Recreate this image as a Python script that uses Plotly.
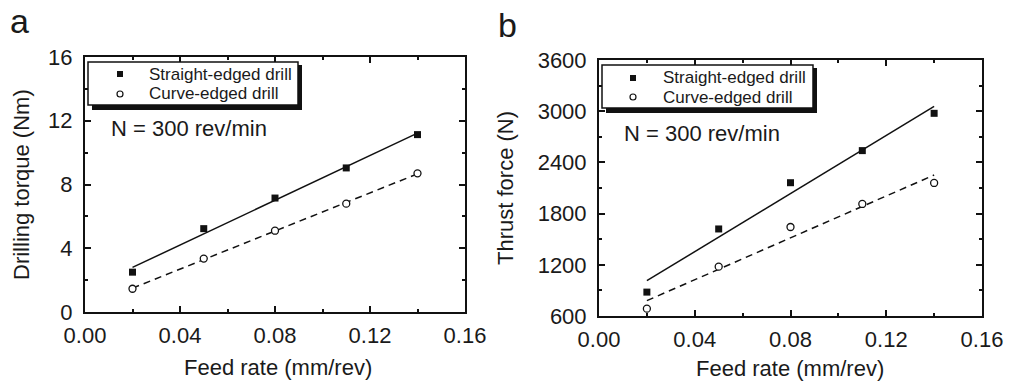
import numpy as np
import plotly.graph_objects as go

# ---------------- data ----------------
feed_rate = [0.02, 0.05, 0.08, 0.11, 0.14]

torque_straight = [2.50, 5.23, 7.15, 9.04, 11.13]
torque_curve = [1.46, 3.35, 5.10, 6.80, 8.70]

thrust_straight = [880, 1620, 2162, 2538, 2975]
thrust_curve = [686, 1178, 1643, 1913, 2159]

x_ticks = [0.00, 0.04, 0.08, 0.12, 0.16]
torque_ticks = [0, 4, 8, 12, 16]
thrust_ticks = [600, 1200, 1800, 2400, 3000, 3600]

label_straight = "Straight-edged drill"
label_curve = "Curve-edged drill"
speed_note = "N = 300 rev/min"

W, H = 1010, 381
FONT = "Liberation Sans, Arial, sans-serif"
TXT = "#1a1a1a"
INK = "#111"


def px(x):
    return x / W


def py(y):
    return 1 - y / H


def fit(xs, ys):
    k, b = np.polyfit(xs, ys, 1)
    xe = [min(xs), max(xs)]
    return xe, [k * v + b for v in xe]


fig = go.Figure()

panels = [
    ("x", "y", torque_straight, torque_curve),
    ("x2", "y2", thrust_straight, thrust_curve),
]
for xa, ya, ys, yc in panels:
    fx, fy = fit(feed_rate, ys)
    fig.add_trace(go.Scatter(x=fx, y=fy, mode="lines", showlegend=False,
                             xaxis=xa, yaxis=ya, line=dict(color=INK, width=1.5)))
    fx, fy = fit(feed_rate, yc)
    fig.add_trace(go.Scatter(x=fx, y=fy, mode="lines", showlegend=False,
                             xaxis=xa, yaxis=ya,
                             line=dict(color=INK, width=1.5, dash="7px,5px")))
    fig.add_trace(go.Scatter(x=feed_rate, y=ys, mode="markers", name=label_straight,
                             xaxis=xa, yaxis=ya, showlegend=False,
                             marker=dict(symbol="square", size=7, color=INK)))
    fig.add_trace(go.Scatter(x=feed_rate, y=yc, mode="markers", name=label_curve,
                             xaxis=xa, yaxis=ya, showlegend=False,
                             marker=dict(symbol="circle", size=7, color="white",
                                         line=dict(width=1.3, color=INK))))

axis_common = dict(
    showgrid=False, zeroline=False, showline=True, linecolor=INK, linewidth=2,
    mirror="allticks", ticks="inside", ticklen=6, tickwidth=1.5, tickcolor=INK,
    tickfont=dict(family=FONT, size=22, color=TXT), automargin=False,
)


def minor(dt, t0):
    return dict(ticks="inside", ticklen=3, tickwidth=1.5, dtick=dt, tick0=t0,
                tickcolor=INK, showgrid=False)


fig.update_layout(
    width=W, height=H,
    margin=dict(l=0, r=0, t=0, b=0, autoexpand=False),
    paper_bgcolor="white", plot_bgcolor="white",
    showlegend=False,
    xaxis=dict(domain=[px(85), px(465)], range=[0, 0.16], tickvals=x_ticks,
               tickformat=".2f", anchor="y", ticklabelstandoff=3,
               minor=minor(0.02, 0), **axis_common),
    yaxis=dict(domain=[py(312), py(57)], range=[0, 16], tickvals=torque_ticks,
               anchor="x", ticklabelstandoff=6, minor=minor(2, 0), **axis_common),
    xaxis2=dict(domain=[px(599), px(982)], range=[0, 0.16], tickvals=x_ticks,
                tickformat=".2f", anchor="y2", ticklabelstandoff=3,
                minor=minor(0.02, 0), **axis_common),
    yaxis2=dict(domain=[py(316), py(60)], range=[600, 3600], tickvals=thrust_ticks,
                anchor="x2", ticklabelstandoff=6, minor=minor(300, 600), **axis_common),
)

ann = []


def add_text(text, x, y, size, angle=0, xanchor="center", yanchor="middle"):
    ann.append(dict(text=text, x=px(x), y=py(y), xref="paper", yref="paper",
                    showarrow=False, textangle=angle, xanchor=xanchor, yanchor=yanchor,
                    font=dict(family=FONT, size=size, color=TXT)))


# legend boxes with drop shadow, symbols and labels
legend_boxes = [
    # box x0, y0, x1, y1, symbol x, row1 y, row2 y, text x
    (88, 62, 298, 105, 120, 74, 94, 147),
    (602, 65, 813, 108, 633, 78, 97, 661),
]
for (x0, y0, x1, y1, sx, r1, r2, tx) in legend_boxes:
    fig.add_shape(type="rect", xref="paper", yref="paper",
                  x0=px(x0 + 4), x1=px(x1 + 4), y0=py(y1 + 5), y1=py(y0 + 3),
                  fillcolor=INK, line=dict(width=0), layer="above")
    fig.add_shape(type="rect", xref="paper", yref="paper",
                  x0=px(x0), x1=px(x1), y0=py(y1), y1=py(y0),
                  fillcolor="white", line=dict(color=INK, width=1.5), layer="above")
    fig.add_shape(type="rect", xref="paper", yref="paper",
                  x0=px(sx - 3), x1=px(sx + 3), y0=py(r1 + 3), y1=py(r1 - 3),
                  fillcolor=INK, line=dict(width=0), layer="above")
    fig.add_shape(type="circle", xref="paper", yref="paper",
                  x0=px(sx - 3), x1=px(sx + 3), y0=py(r2 + 3), y1=py(r2 - 3),
                  fillcolor="white", line=dict(color=INK, width=1.2), layer="above")
    add_text(label_straight, tx, r1, 17, xanchor="left")
    add_text(label_curve, tx, r2, 17, xanchor="left")

add_text("a", 8, 21, 34, xanchor="left")
add_text("b", 496, 25, 34, xanchor="left")
add_text("Feed rate (mm/rev)", 278, 367, 22)
add_text("Feed rate (mm/rev)", 790, 368, 22)
add_text("Drilling torque (Nm)", 22, 185, 22, angle=-90)
add_text("Thrust force (N)", 506, 188, 22, angle=-90)
add_text(speed_note, 109, 128, 22, xanchor="left")
add_text(speed_note, 622, 133, 22, xanchor="left")
fig.update_layout(annotations=ann)

fig.write_html("out.html")
